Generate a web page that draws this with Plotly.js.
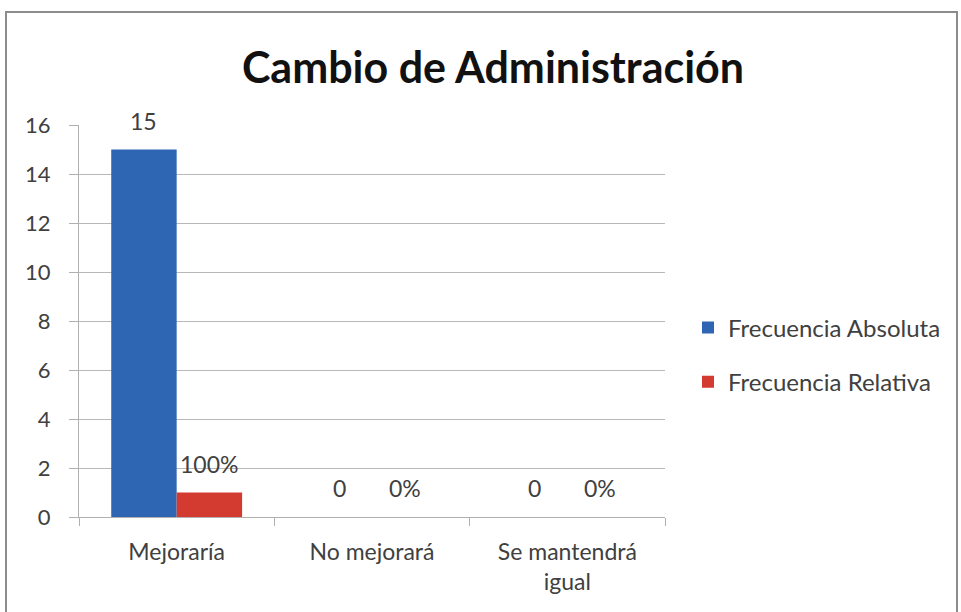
<!DOCTYPE html>
<html>
<head>
<meta charset="utf-8">
<script src="https://cdn.plot.ly/plotly-3.0.1.min.js"></script>
<style>html,body{margin:0;padding:0;background:#fff;}#chart{width:961px;height:612px;}</style>
</head>
<body>
<div id="chart"></div>
<script>
const categories = ["Mejoraría", "No mejorará", "Se mantendrá<br>igual"];
const absoluta = [15, 0, 0];
const relativa = [1, 0, 0];
const absolutaLabels = ["15", "0", "0"];
const relativaLabels = ["100%", "0%", "0%"];
const seriesNames = ["Frecuencia Absoluta", "Frecuencia Relativa"];
const yTicks = [0, 2, 4, 6, 8, 10, 12, 14, 16];

const FONT = "Lato, 'Open Sans', sans-serif";
const labelFont = {family: FONT, size: 22, color: "#404040"};
const catFont = {family: FONT, size: 23, color: "#404040"};

const traces = [
  {type: "bar", x: categories, y: absoluta, name: seriesNames[0], legendgroup: "a",
   marker: {color: "#2F66B3", line: {width: 0}}, hoverinfo: "x+y"},
  {type: "bar", x: categories, y: relativa, name: seriesNames[1], legendgroup: "b",
   marker: {color: "#D33A30", line: {width: 0}}, hoverinfo: "x+y"}
];

const L = 79, R = 665, T = 125, B = 517, W = 961, H = 612;
const pw = R - L, ph = B - T;
const px = v => (v - L) / pw;
const py = v => (B - v) / ph;

const bargap = 0.33;
const barPx = (pw / categories.length) * (1 - bargap) / 2;

// data labels placed from the series arrays
const annotations = [];
categories.forEach((c, i) => {
  annotations.push({x: c, y: absoluta[i], xref: "x", yref: "y", text: absolutaLabels[i], showarrow: false,
    xanchor: "center", yanchor: "bottom", xshift: -barPx / 2, yshift: 13, font: catFont});
  annotations.push({x: c, y: relativa[i], xref: "x", yref: "y", text: relativaLabels[i], showarrow: false,
    xanchor: "center", yanchor: "bottom", xshift: barPx / 2, yshift: 13, font: catFont});
});

const layout = {
  width: W, height: H,
  margin: {l: L, r: W - R, t: T, b: H - B},
  paper_bgcolor: "#ffffff", plot_bgcolor: "#ffffff",
  font: {family: FONT, color: "#404040"},
  title: {text: "<b>Cambio de Administración</b>", font: {family: FONT, size: 43, color: "#111"},
          x: 0.513, xref: "container", xanchor: "center", y: 0.889, yref: "container", yanchor: "middle"},
  barmode: "group", bargap: bargap, bargroupgap: 0,
  showlegend: true,
  legend: {x: px(688), xanchor: "left", y: py(355), yanchor: "middle", traceorder: "grouped", tracegroupgap: 20,
           font: {family: FONT, size: 24, color: "#404040"}, bgcolor: "rgba(0,0,0,0)", itemwidth: 30},
  xaxis: {type: "category", tickson: "boundaries", ticks: "outside", ticklen: 8, tickcolor: "#b0b0b0",
          showline: true, linecolor: "#b0b0b0", linewidth: 1, showgrid: false,
          tickfont: catFont, ticklabelstandoff: 14, fixedrange: true},
  yaxis: {range: [0, 16], tickvals: yTicks, ticks: "outside", ticklen: 9, tickcolor: "#b0b0b0",
          showline: true, linecolor: "#b0b0b0", linewidth: 1, showgrid: true, gridcolor: "#b8b8b8", gridwidth: 1,
          zeroline: false, tickfont: labelFont, ticklabelstandoff: 14, fixedrange: true},
  annotations: annotations,
  shapes: [
    {type: "rect", xref: "paper", yref: "paper", x0: px(6), x1: px(957), y0: py(640), y1: py(12),
     line: {color: "#8c8c8c", width: 2}, fillcolor: "rgba(0,0,0,0)", layer: "below"}
  ]
};

Plotly.newPlot("chart", traces, layout, {displayModeBar: false, staticPlot: true});
</script>
</body>
</html>
